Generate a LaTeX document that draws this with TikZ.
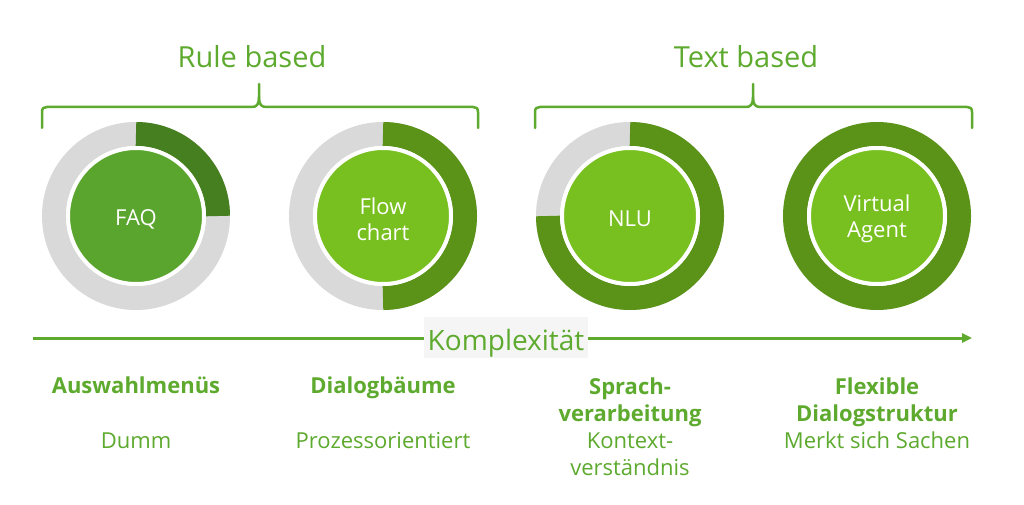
\documentclass[tikz,border=0pt]{standalone}
\usepackage{fontspec}
\setmainfont{Open Sans}
\usetikzlibrary{arrows.meta}
\definecolor{txtgreen}{HTML}{5DAA2E}
\definecolor{faqfill}{HTML}{5AA52D}
\definecolor{faqarc}{HTML}{467F1F}
\definecolor{limefill}{HTML}{78C01F}
\definecolor{ringdark}{HTML}{5A9318}
\definecolor{ringgray}{HTML}{D9D9D9}
\definecolor{boxgray}{HTML}{F5F5F5}
\tikzset{
  ringbase/.style={draw=ringgray, line width=24pt},
  ringarc/.style={draw=#1, line width=24pt},
  core/.style={circle, fill=#1, draw=white, line width=4pt, minimum size=136pt,
    inner sep=0pt, outer sep=0pt},
  corelabel/.style={text=white, align=center, inner sep=0pt,
    font=\fontsize{22pt}{26pt}\selectfont},
  bracestyle/.style={draw=txtgreen, line width=2.5pt, line cap=round, line join=round},
  grouplabel/.style={text=txtgreen, font=\fontsize{29pt}{34pt}\selectfont, inner sep=0pt, anchor=base},
  headlabel/.style={text=txtgreen, font=\bfseries\fontsize{22pt}{27pt}\selectfont, align=center, inner sep=0pt, anchor=base},
  sublabel/.style={text=txtgreen, font=\fontsize{22pt}{27pt}\selectfont, align=center, inner sep=0pt, anchor=base},
  axis/.style={draw=txtgreen, line width=3pt, -{Triangle[length=10pt,width=9pt]}},
}
\begin{document}
\begin{tikzpicture}[x=1pt,y=-1pt]
\useasboundingbox[fill=white] (0,0) rectangle (1024,505);

% centres
\coordinate (c1) at (136,216);
\coordinate (c2) at (383,216);
\coordinate (c3) at (630,216);
\coordinate (c4) at (877,216);

% rings
\draw[ringbase] (c1) circle[radius=82pt];
\draw[ringarc=faqarc] (c1) ++(90:82pt) arc[start angle=90, end angle=0, radius=82pt];
\draw[ringbase] (c2) circle[radius=82pt];
\draw[ringarc=ringdark] (c2) ++(90:82pt) arc[start angle=90, end angle=-90, radius=82pt];
\draw[ringbase] (c3) circle[radius=82pt];
\draw[ringarc=ringdark] (c3) ++(90:82pt) arc[start angle=90, end angle=-180, radius=82pt];
\draw[ringarc=ringdark] (c4) circle[radius=82pt];

% cores
\node[core=faqfill] (faq) at (c1) {};
\node[core=limefill] (flow) at (c2) {};
\node[core=limefill] (nlu) at (c3) {};
\node[core=limefill] (va) at (c4) {};
\node[corelabel] (faqt) at ([yshift=-3pt]faq.center) {FAQ};
\node[corelabel] (flowt) at ([yshift=-3pt]flow.center) {Flow\\chart};
\node[corelabel] (nlut) at ([yshift=-3pt]nlu.center) {NLU};
\node[corelabel] (vat) at ([yshift=-3pt]va.center) {Virtual\\Agent};

% braces
\coordinate (b1l) at (42,128);
\coordinate (b1r) at (478,128);
\coordinate (b1m) at (259,84);
\draw[bracestyle] (b1l) -- (42,112) .. controls (42,108) and (44,107) .. (47,107)
  -- (252,107) .. controls (257,107) and (259,104) .. (259,97) -- (b1m);
\draw[bracestyle] (b1r) -- (478,112) .. controls (478,108) and (476,107) .. (473,107)
  -- (266,107) .. controls (261,107) and (259,104) .. (259,97);
\coordinate (b2l) at (535,128);
\coordinate (b2r) at (972,128);
\coordinate (b2m) at (753,84);
\draw[bracestyle] (b2l) -- (535,112) .. controls (535,108) and (537,107) .. (540,107)
  -- (746,107) .. controls (751,107) and (753,104) .. (753,97) -- (b2m);
\draw[bracestyle] (b2r) -- (972,112) .. controls (972,108) and (970,107) .. (967,107)
  -- (760,107) .. controls (755,107) and (753,104) .. (753,97);

\node[grouplabel] (rule) at (252,68) {Rule based};
\node[grouplabel] (text) at (746,68) {Text based};

% axis
\coordinate (a0) at (33,338);
\coordinate (a1) at (972,338);
\draw[axis] (a0) -- (a1);
\node[fill=boxgray, minimum width=164pt, text height=33pt, text depth=8pt, inner sep=0pt,
  anchor=base, text=txtgreen, font=\fontsize{28pt}{32pt}\selectfont] (komp) at (506,350) {Komplexität};

% bottom labels
\node[headlabel] (h1) at (136,393) {Auswahlmenüs};
\node[headlabel] (h2) at (383,393) {Dialogbäume};
\node[headlabel] (h3) at (630,421) {Sprach-\\verarbeitung};
\node[headlabel] (h4) at (877,421) {Flexible\\Dialogstruktur};
\node[sublabel] (s1) at (136,448) {Dumm};
\node[sublabel] (s2) at (383,448) {Prozessorientiert};
\node[sublabel] (s3) at (630,475) {Kontext-\\verständnis};
\node[sublabel] (s4) at (877,448) {Merkt sich Sachen};
\end{tikzpicture}
\end{document}
